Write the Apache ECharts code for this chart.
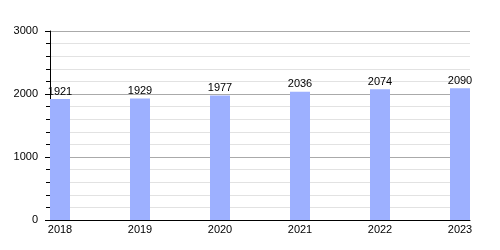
<!DOCTYPE html>
<html><head><meta charset="utf-8">
<script src="https://cdn.jsdelivr.net/npm/echarts@6/dist/echarts.min.js"></script>
<style>html,body{margin:0;padding:0;background:#fff}#c{width:500px;height:250px}</style>
</head><body><div id="c"></div>
<script>
var years = [2018, 2019, 2020, 2021, 2022, 2023];
var values = [1921, 1929, 1977, 2036, 2074, 2090];
var yTicks = [0, 1000, 2000, 3000];

var chart = echarts.init(document.getElementById('c'));
var font = 'Liberation Sans, Arial, sans-serif';
chart.setOption({
  animation: false,
  grid: {left: 50, right: 30, top: 31, bottom: 30},
  xAxis: {
    type: 'value', min: 2017.875, max: 2023.125, interval: 0.125,
    axisLine: {show: true, lineStyle: {color: '#000', width: 1}},
    axisTick: {show: false},
    splitLine: {show: false},
    axisLabel: {color: '#000', fontSize: 11, fontFamily: font, margin: 4,
      formatter: function (v) { return years.indexOf(Math.round(v)) >= 0 && Math.abs(v - Math.round(v)) < 1e-6 ? String(Math.round(v)) : ''; }}
  },
  yAxis: {
    type: 'value', min: yTicks[0], max: yTicks[yTicks.length - 1], interval: 1000,
    axisLine: {show: true, lineStyle: {color: '#000', width: 1}},
    axisTick: {show: true, length: 5, lineStyle: {color: '#000'}},
    minorTick: {show: true, splitNumber: 5, length: 4, lineStyle: {color: '#000'}},
    splitLine: {show: true, lineStyle: {color: '#aaaaaa', width: 1}},
    minorSplitLine: {show: true, lineStyle: {color: '#e2e2e2', width: 1}},
    axisLabel: {color: '#000', fontSize: 11, fontFamily: font, margin: 12,
      formatter: function (v) { return String(v); }}
  },
  series: [{
    type: 'bar', barWidth: 20,
    data: years.map(function (y, i) { return [y, values[i]]; }),
    itemStyle: {color: '#9db0ff'},
    label: {show: true, position: 'top', distance: 2, color: '#000', fontSize: 11, fontFamily: font,
      formatter: function (p) { return p.value[1]; }}
  }]
});
</script></body></html>
